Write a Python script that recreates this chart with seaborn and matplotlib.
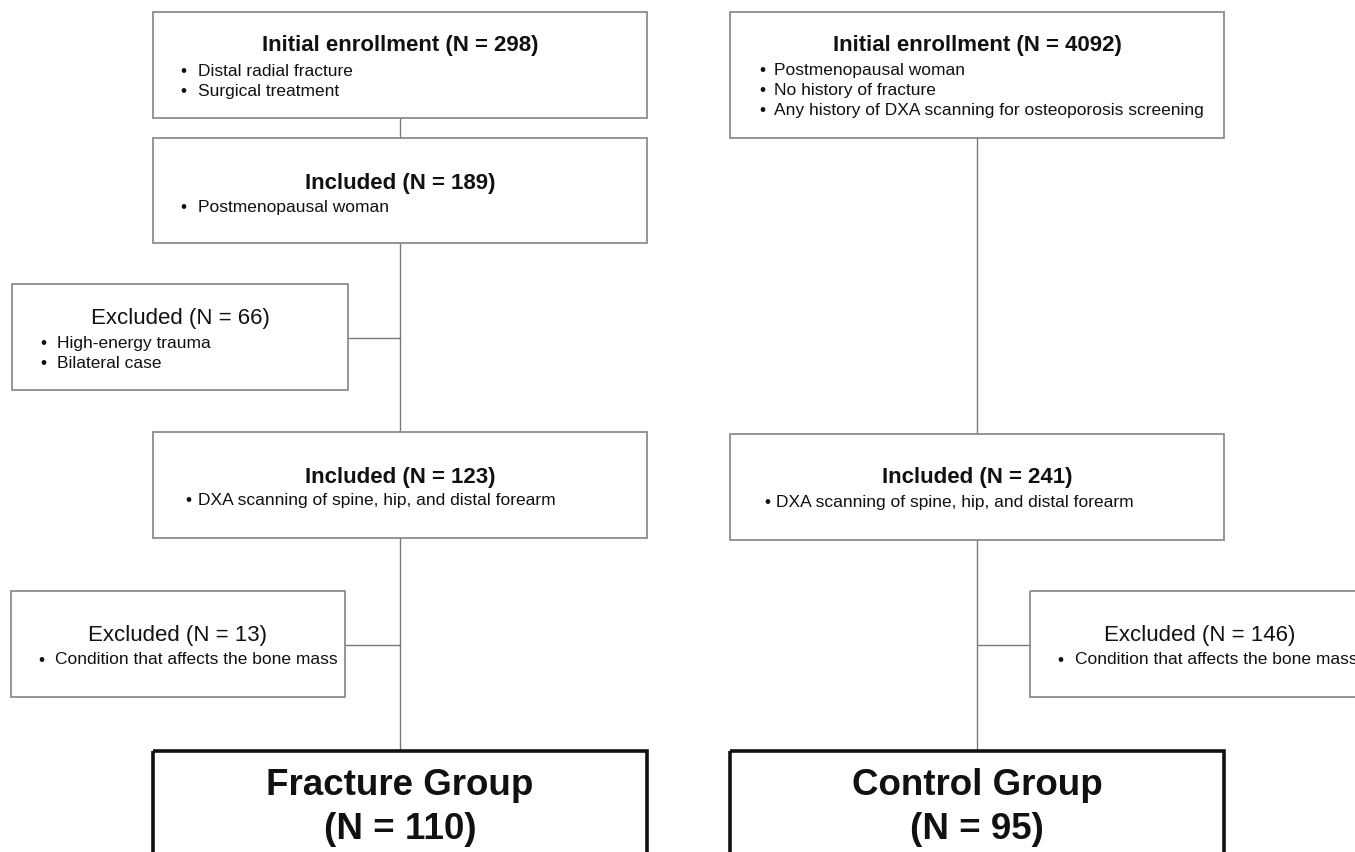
import matplotlib
matplotlib.use("Agg")
import matplotlib.pyplot as plt
from matplotlib.patches import Rectangle
import seaborn as sns

# texts of the flowchart
fracture_titles = ["Initial enrollment (N = 298)", "Included (N = 189)", "Included (N = 123)"]
fracture_bullets = [["Distal radial fracture", "Surgical treatment"],
                    ["Postmenopausal woman"],
                    ["DXA scanning of spine, hip, and distal forearm"]]
control_titles = ["Initial enrollment (N = 4092)", "Included (N = 241)"]
control_bullets = [["Postmenopausal woman", "No history of fracture",
                    "Any history of DXA scanning for osteoporosis screening"],
                   ["DXA scanning of spine, hip, and distal forearm"]]
excluded_titles = ["Excluded (N = 66)", "Excluded (N = 13)", "Excluded (N = 146)"]
excluded_bullets = [["High-energy trauma", "Bilateral case"],
                    ["Condition that affects the bone mass"],
                    ["Condition that affects the bone mass"]]
group_names = ["Fracture Group", "Control Group"]
group_n = [110, 95]

sns.set_theme(style="white")
plt.rcParams['font.family'] = ['Liberation Sans', 'DejaVu Sans']

fig = plt.figure(figsize=(13.55, 8.53), dpi=100)
ax = fig.add_axes([0, 0, 1, 1])
ax.set_xlim(0, 1355)
ax.set_ylim(853, 0)
ax.axis('off')

edge = '#8c8c8c'
line = '#7a7a7a'
TITLE = 16
BUL = 12.5


def box(x0, y0, x1, y1, lw=1.3, ec=edge):
    ax.add_patch(Rectangle((x0, y0), x1 - x0, y1 - y0, fill=False, ec=ec, lw=lw, zorder=2))


def seg(xs, ys):
    ax.plot(xs, ys, color=line, lw=1.0, zorder=1)


def bullets(items, bx, tx, y, dy=20, size=BUL):
    for i, t in enumerate(items):
        ax.text(bx, y + i * dy, u"\u2022", fontsize=size, va='center', ha='center', color='#111')
        ax.text(tx, y + i * dy, t, fontsize=size, va='center', ha='left', color='#111', clip_on=False)


# left column
lx, rx = 400, 977
left_boxes = [(13, 119), (139, 244), (433, 539)]
left_title_y = [45, 183, 477]
left_bullet_y = [71, 207, 501]
left_bx = [(183, 198), (183, 198), (188, 198)]
for (t0, t1), ty, by, (bx, tx), title, items in zip(left_boxes, left_title_y, left_bullet_y, left_bx,
                                                    fracture_titles, fracture_bullets):
    box(153, t0, 647, t1)
    ax.text(lx, ty, title, fontsize=TITLE, fontweight='bold', ha='center', va='center', color='#111')
    bullets(items, bx, tx, by)

# right column
right_boxes = [(13, 139), (435, 541)]
right_title_y = [45, 477]
right_bullet_y = [70, 502]
right_bx = [(762, 774), (767, 776)]
for (t0, t1), ty, by, (bx, tx), title, items in zip(right_boxes, right_title_y, right_bullet_y, right_bx,
                                                    control_titles, control_bullets):
    box(730, t0, 1224, t1)
    ax.text(rx, ty, title, fontsize=TITLE, fontweight='bold', ha='center', va='center', color='#111')
    bullets(items, bx, tx, by)

# excluded boxes
ex_boxes = [(12, 285, 348, 391), (11, 592, 345, 698), (1030, 592, 1400, 698)]
ex_title = [(180, 318), (178, 635), (1200, 635)]
ex_bul = [(43, 57, 343), (41, 55, 660), (1060, 1075, 660)]
for (x0, y0, x1, y1), (tx, ty), (bx, btx, by), title, items in zip(ex_boxes, ex_title, ex_bul,
                                                                   excluded_titles, excluded_bullets):
    box(x0, y0, x1, y1)
    ax.text(tx, ty, title, fontsize=TITLE, ha='center', va='center', color='#111')
    bullets(items, bx, btx, by)

# connectors
seg([lx, lx], [119, 139])
seg([lx, lx], [244, 433])
seg([lx, lx], [539, 752])
seg([348, lx], [339, 339])
seg([345, lx], [646, 646])
seg([rx, rx], [139, 435])
seg([rx, rx], [541, 752])
seg([rx, 1030], [646, 646])

# final groups
for cx, name, n in zip([lx, rx], group_names, group_n):
    x0 = cx - 247
    box(x0, 752, x0 + 494, 900, lw=2.6, ec='#111')
    ax.text(cx, 786, name, fontsize=26.5, fontweight='bold', ha='center', va='center', color='#111')
    ax.text(cx, 830, f"(N = {n})", fontsize=26.5, fontweight='bold', ha='center', va='center', color='#111')

fig.savefig("out.png", dpi=100, facecolor='white')
